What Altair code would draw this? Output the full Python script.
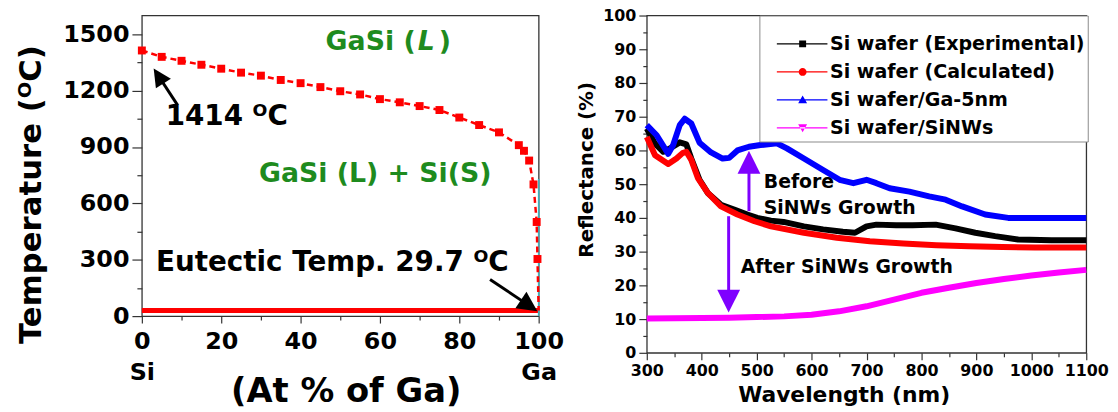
import altair as alt
import pandas as pd

FONT = "DejaVu Sans"
FRAME = "#333333"

# ---------------- Left panel: Ga-Si phase diagram ----------------
liq_x = [0, 5, 10, 15, 20, 25, 30, 35, 40, 45, 50, 55, 60, 65, 70, 75, 80, 85, 90, 95,
         96.3, 97.6, 98.7, 99.5, 99.7]
liq_t = [1414, 1380, 1359, 1338, 1317, 1296, 1280, 1257, 1240, 1219, 1197, 1180, 1155,
         1138, 1118, 1097, 1057, 1017, 978, 910, 880, 828, 701, 501, 304]
eut_x = [0, 100]
eut_t = 29.7
edge_x = [100]
edge_y0 = [0]
edge_y1 = [730]
left_xticks = [0, 20, 40, 60, 80, 100]
left_xminor = [10, 30, 50, 70, 90]
left_yticks = [0, 300, 600, 900, 1200, 1500]
left_yminor = [150, 450, 750, 1050, 1350]

green_r_text = ["GaSi ("]
green_r_x = [69.0]
green_r_y = [1457]
green_text = [")", "GaSi (L) + Si(S)"]
green_x = [74.8, 29.5]
green_y = [1457, 757]
green_size = [27, 27]
italic_text = ["L"]
italic_x = [69.5]
italic_y = [1457]
black_text = ["1414 \u1d3cC", "Eutectic Temp. 29.7 \u1d3cC"]
black_x = [21.4, 48]
black_y = [1061, 281]
# arrows: tail -> head
arr_l_x = [9, 87.75]
arr_l_y = [1123, 195]
arr_l_hx = [4.2, 97.6]
arr_l_hy = [1278, 55.8]
arr_l_ang = [327, 124]
arr_l_size = [324, 400]

# ---------------- Right panel: reflectance ----------------
series_names = ["Si wafer (Experimental)", "Si wafer (Calculated)",
                "Si wafer/Ga-5nm", "Si wafer/SiNWs"]
series_colors = ["#000000", "#ff0000", "#0000ff", "#ff00ff"]

wl_exp = [300, 315, 330, 342, 360, 372, 381, 396, 411, 435, 459, 483, 501, 526, 549, 586,
          621, 657, 679, 700, 718, 754, 784, 826, 862, 898, 934, 976, 1037, 1100]
r_exp = [66.5, 62, 59.6, 60.6, 62.4, 61.8, 57.6, 51.3, 47.4, 43.9, 42.5, 41, 40, 39.2, 38.8,
         37.5, 36.6, 35.9, 35.6, 37.5, 38, 37.8, 37.8, 38, 36.9, 35.6, 34.6, 33.6, 33.4, 33.4]
wl_calc = [300, 315, 339, 354, 365, 372, 381, 393, 411, 435, 465, 496, 526, 586, 646, 706,
           767, 827, 887, 947, 1007, 1100]
r_calc = [64, 58.6, 56, 57.6, 59.2, 59.6, 57.2, 51.8, 47.4, 43.4, 41, 39, 37.5, 35.6, 34.1,
          33.1, 32.4, 31.9, 31.6, 31.4, 31.2, 31.2]
wl_ga = [300, 318, 339, 348, 360, 369, 381, 396, 417, 438, 450, 465, 486, 507, 537, 555, 586,
         621, 651, 676, 700, 718, 742, 778, 814, 844, 874, 916, 958, 1007, 1100]
r_ga = [67.5, 64.5, 59, 61.6, 67.5, 69.4, 68, 62.3, 59.4, 57.6, 57.8, 60, 61.1, 61.6, 62.1,
        60.6, 57.6, 54.2, 51.3, 50.3, 51.3, 50.3, 48.8, 47.8, 46.4, 45.4, 43.4, 41, 40, 40, 40]
wl_nw = [300, 400, 450, 500, 550, 600, 650, 700, 750, 800, 850, 900, 950, 1000, 1050, 1100]
r_nw = [10.2, 10.3, 10.4, 10.6, 10.8, 11.3, 12.3, 13.8, 15.8, 17.8, 19.3, 20.7, 21.9, 22.9,
        23.8, 24.6]

right_xticks = [300, 400, 500, 600, 700, 800, 900, 1000, 1100]
right_xminor = [350, 450, 550, 650, 750, 850, 950, 1050]
right_yticks = [0, 10, 20, 30, 40, 50, 60, 70, 80, 90, 100]
right_yminor = [5, 15, 25, 35, 45, 55, 65, 75, 85, 95]

note_text = ["Before", "SiNWs Growth", "After SiNWs Growth"]
note_x = [513, 513, 471]
note_y = [50.6, 42.8, 25.3]
# purple arrows: shaft from y0 to y1, head centred at hy
parr_x = [486, 449]
parr_y0 = [42, 40.5]
parr_y1 = [56.5, 18.5]
parr_hy = [56.5, 15.3]
parr_ang = [0, 180]
parr_size = [529, 529]
PURPLE = "#7f00ff"
HEAD = "M0,-1L1,1L-1,1Z"

# legend symbols: thin line + marker (unit coords, scaled by sqrt(size)/2)
LINE = "M1,-0.12H11.2V0.12H1Z"
legend_shapes = [
    LINE + "M5.5,-0.7H6.9V0.7H5.5Z",
    LINE + "M7,0A0.8,0.8,0,1,1,5.4,0A0.8,0.8,0,1,1,7,0Z",
    LINE + "M6.2,-0.9L7.1,0.7H5.3Z",
    LINE + "M6.2,0.9L7.1,-0.7H5.3Z",
]

# ======================= build left =======================
def lx(axis=None, field="x"):
    return alt.X(f"{field}:Q", scale=alt.Scale(domain=[0, 100], nice=False, zero=False), axis=axis)

def ly(axis=None, field="y"):
    return alt.Y(f"{field}:Q", scale=alt.Scale(domain=[0, 1600], nice=False, zero=False), axis=axis)

lab = dict(labelFont=FONT, labelFontWeight="bold", labelColor="black", format="d",
           tickColor=FRAME, domain=False, grid=False)
left_x_axis = alt.Axis(values=left_xticks, orient="bottom",
                       labelExpr="datum.value == 0 ? ['0', 'Si'] : datum.value == 100 ? ['100', 'Ga'] : datum.label",
                       labelFlush=False, labelOverlap=False, labelFontSize=24, labelLineHeight=31,
                       labelPadding=7, tickSize=7, tickWidth=1.2,
                       title="(At % of Ga)", titleFont=FONT, titleFontSize=34, titleFontWeight="bold",
                       titleColor="black", titleX=205.5, titleY=86, titleBaseline="alphabetic", **lab)
left_y_axis = alt.Axis(values=left_yticks, orient="left", labelFontSize=24, labelPadding=3,
                       tickSize=10, tickWidth=1.2,
                       title="Temperature (\u1d3cC)", titleFont=FONT, titleFontSize=31,
                       titleFontWeight="bold", titleColor="black", titleX=-111, titleY=180,
                       titleBaseline="middle", **lab)
left_x_minor = alt.Axis(values=left_xminor, orient="bottom", labels=False, tickSize=4,
                        tickWidth=1.2, title=None, tickColor=FRAME, domain=False, grid=False)
left_y_minor = alt.Axis(values=left_yminor, orient="left", labels=False, tickSize=5,
                        tickWidth=1.2, title=None, tickColor=FRAME, domain=False, grid=False)

eut_df = pd.DataFrame({"x": eut_x, "y": [eut_t] * len(eut_x)})
liq_df = pd.DataFrame({"x": liq_x, "y": liq_t})
liq_line_df = pd.DataFrame({"x": liq_x + [eut_x[-1]], "y": liq_t + [eut_t]})
edge_df = pd.DataFrame({"x": edge_x, "y": edge_y0, "y1": edge_y1})

edge = alt.Chart(edge_df).mark_rule(color="#3fb0bb", strokeWidth=1.6).encode(
    x=lx(), y=ly(), y2="y1:Q")
eut = alt.Chart(eut_df).mark_line(color="red", strokeWidth=5).encode(
    x=lx(left_x_axis), y=ly(left_y_axis))
liq_line = alt.Chart(liq_line_df).mark_line(color="red", strokeWidth=2.5, strokeDash=[6, 4]).encode(
    x=lx(), y=ly())
liq_pts = alt.Chart(liq_df).mark_square(color="red", size=64, opacity=1).encode(
    x=lx(left_x_minor), y=ly(left_y_minor))

greenr_df = pd.DataFrame({"t": green_r_text, "x": green_r_x, "y": green_r_y})
greenr = alt.Chart(greenr_df).mark_text(align="right", baseline="middle", font=FONT, fontSize=27,
                                        fontWeight="bold", color="#1e8b1e").encode(
    x=lx(), y=ly(), text="t:N")
green_df = pd.DataFrame({"t": green_text, "x": green_x, "y": green_y, "s": green_size})
green = alt.Chart(green_df).mark_text(align="left", baseline="middle", font=FONT,
                                      fontWeight="bold", color="#1e8b1e").encode(
    x=lx(), y=ly(), text="t:N", size=alt.Size("s:Q", scale=None))
ital_df = pd.DataFrame({"t": italic_text, "x": italic_x, "y": italic_y})
ital = alt.Chart(ital_df).mark_text(align="left", baseline="middle", font=FONT, fontSize=27,
                                    fontWeight="bold", fontStyle="italic", color="#1e8b1e").encode(
    x=lx(), y=ly(), text="t:N")
blk_df = pd.DataFrame({"t": black_text, "x": black_x, "y": black_y})
blk = alt.Chart(blk_df).mark_text(align="center", baseline="middle", font=FONT, fontSize=28,
                                  fontWeight="bold", color="black").encode(
    x=lx(), y=ly(), text="t:N")

arr_df = pd.DataFrame({"x": arr_l_x, "y": arr_l_y, "hx": arr_l_hx, "hy": arr_l_hy,
                       "a": arr_l_ang, "s": arr_l_size})
arr_shaft = alt.Chart(arr_df).mark_rule(color="black", strokeWidth=3).encode(
    x=lx(), y=ly(), x2="hx:Q", y2="hy:Q")
arr_head = alt.Chart(arr_df).mark_point(shape=HEAD, filled=True, color="black", opacity=1,
                                        strokeWidth=0).encode(
    x=lx(field="hx"), y=ly(field="hy"), angle=alt.Angle("a:Q", scale=None),
    size=alt.Size("s:Q", scale=None))

left = alt.layer(eut, edge, liq_line, liq_pts, greenr, green, ital, blk, arr_shaft, arr_head
                 ).resolve_axis(x="independent", y="independent").properties(width=400, height=303)

# ======================= build right =======================
def rx(axis=None, field="wl"):
    return alt.X(f"{field}:Q", scale=alt.Scale(domain=[300, 1100], nice=False, zero=False), axis=axis)

def ry(axis=None, field="r"):
    return alt.Y(f"{field}:Q", scale=alt.Scale(domain=[0, 100], nice=False, zero=False), axis=axis)

right_x_axis = alt.Axis(values=right_xticks, orient="bottom", labelFlush=False, labelOverlap=False,
                        labelFontSize=16, labelPadding=3, tickSize=7, tickWidth=1.2,
                        title="Wavelength (nm)", titleFont=FONT, titleFontSize=22,
                        titleFontWeight="bold", titleColor="black", titleX=198.5, titleY=49,
                        titleBaseline="alphabetic", **lab)
right_y_axis = alt.Axis(values=right_yticks, orient="left", labelFontSize=16, labelPadding=3,
                        tickSize=8, tickWidth=1.2,
                        title="Reflectance (%)", titleFont=FONT, titleFontSize=20,
                        titleFontWeight="bold", titleColor="black", titleX=-60.5, titleY=155,
                        titleBaseline="middle", **lab)
right_x_minor = alt.Axis(values=right_xminor, orient="bottom", labels=False, tickSize=4,
                         tickWidth=1.2, title=None, tickColor=FRAME, domain=False, grid=False)
right_y_minor = alt.Axis(values=right_yminor, orient="left", labels=False, tickSize=4,
                         tickWidth=1.2, title=None, tickColor=FRAME, domain=False, grid=False)

rows = []
for name, wls, rs in zip(series_names, [wl_exp, wl_calc, wl_ga, wl_nw], [r_exp, r_calc, r_ga, r_nw]):
    for w, r in zip(wls, rs):
        rows.append({"series": name, "wl": w, "r": r})
spec_df = pd.DataFrame(rows)

line_layers = []
for i, (name, col) in enumerate(zip(series_names, series_colors)):
    line_layers.append(
        alt.Chart(spec_df).transform_filter(alt.datum.series == name)
        .mark_line(color=col, strokeWidth=6, strokeJoin="round")
        .encode(x=rx(right_x_axis if i == 0 else None), y=ry(right_y_axis if i == 0 else None))
    )

legend = alt.Legend(orient="none", legendX=113.5, legendY=0, title=" ", titleFontSize=12,
                    titlePadding=4, direction="vertical",
                    fillColor="white", strokeColor="#8a8a8a", padding=3, rowPadding=8.2,
                    symbolSize=100, symbolStrokeWidth=0, symbolOpacity=1,
                    labelFont=FONT, labelFontSize=19.2, labelFontWeight="bold",
                    labelColor="black", labelOffset=49, labelLimit=400)

legend_layer = alt.Chart(spec_df).mark_point(filled=True, opacity=0).encode(
    x=rx(), y=ry(),
    color=alt.Color("series:N", scale=alt.Scale(domain=series_names, range=series_colors),
                    legend=legend),
    shape=alt.Shape("series:N", scale=alt.Scale(domain=series_names, range=legend_shapes),
                    legend=legend))

parr_df = pd.DataFrame({"wl": parr_x, "r": parr_y0, "r1": parr_y1, "hr": parr_hy,
                        "a": parr_ang, "s": parr_size})
p_shaft = alt.Chart(parr_df).mark_rule(color=PURPLE, strokeWidth=3).encode(
    x=rx(), y=ry(), y2="r1:Q")
p_head = alt.Chart(parr_df).mark_point(shape=HEAD, filled=True, color=PURPLE, opacity=1,
                                       strokeWidth=0).encode(
    x=rx(), y=ry(field="hr"), angle=alt.Angle("a:Q", scale=None),
    size=alt.Size("s:Q", scale=None))

note_df = pd.DataFrame({"t": note_text, "wl": note_x, "r": note_y})
notes = alt.Chart(note_df).mark_text(align="left", baseline="middle", font=FONT, fontSize=19,
                                     fontWeight="bold", color="black").encode(
    x=rx(right_x_minor), y=ry(right_y_minor), text="t:N")

right = alt.layer(*line_layers, p_shaft, p_head, notes, legend_layer).resolve_axis(
    x="independent", y="independent").properties(width=443, height=340)

chart = alt.hconcat(left, right, spacing=11).resolve_legend(
    color="independent", shape="independent").configure(
    padding={"left": 15, "top": 5, "right": 0, "bottom": 0}, background="white"
).configure_view(stroke=FRAME, strokeWidth=1.3)

chart.save("out.html", embed_options={"renderer": "svg", "actions": False})
